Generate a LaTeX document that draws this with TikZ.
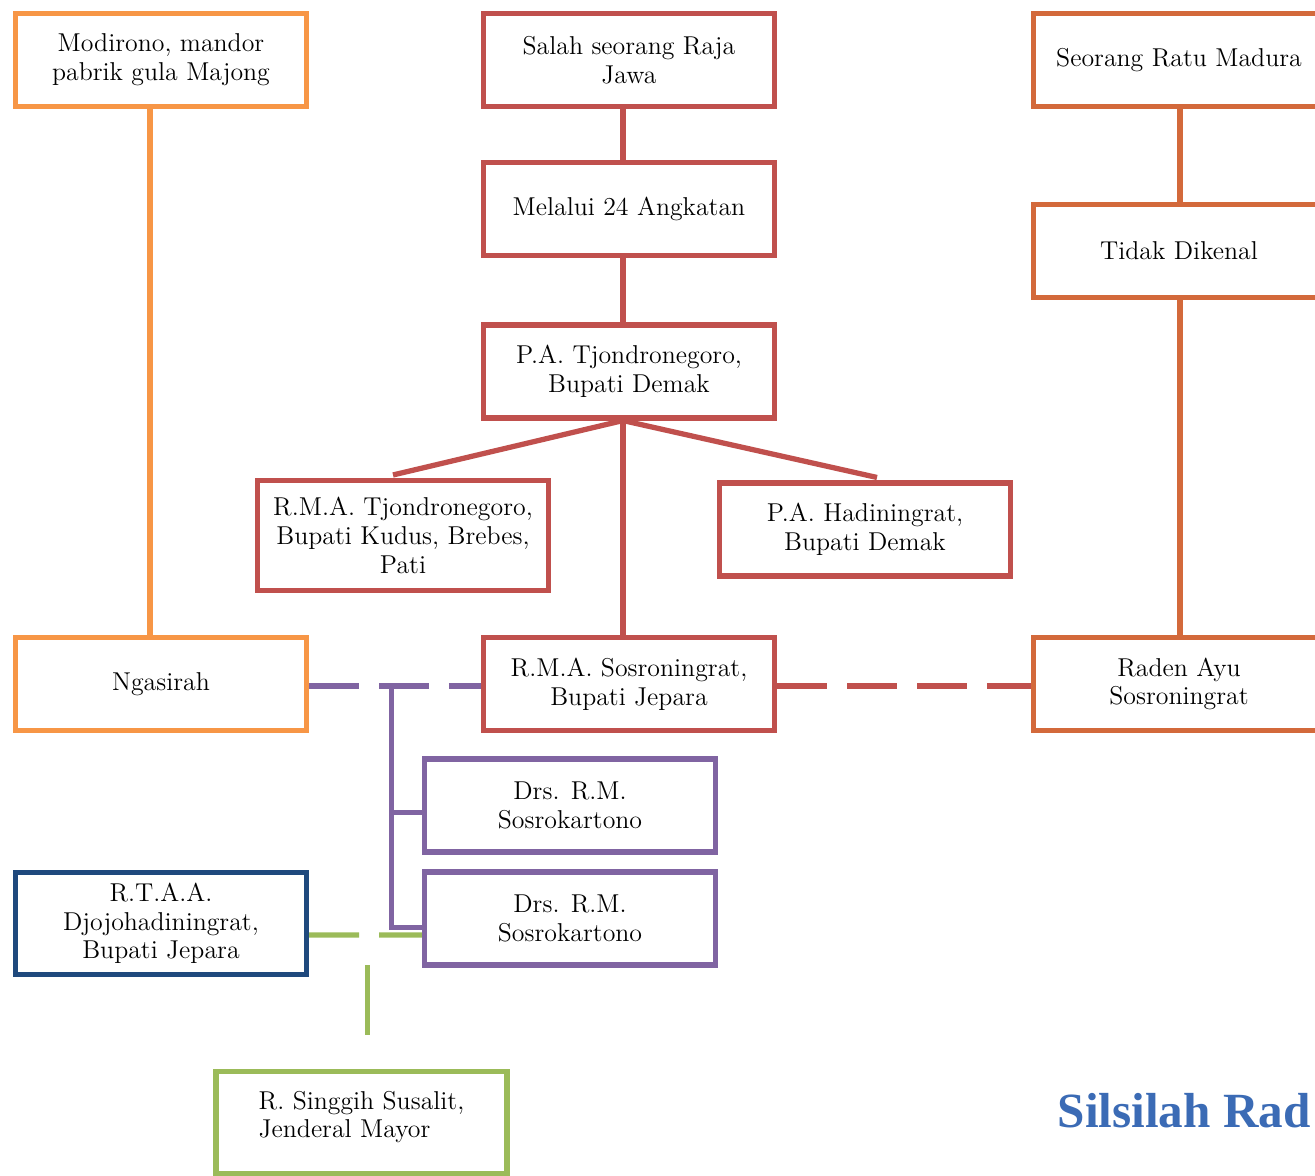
\documentclass[tikz,border=0pt]{standalone}
\usepackage{fontspec}
\newfontfamily\titlefont{Liberation Serif}
\usetikzlibrary{calc}
\definecolor{oranye}{HTML}{F79646}
\definecolor{merah}{HTML}{C0504D}
\definecolor{bata}{HTML}{D3693B}
\definecolor{ungu}{HTML}{8064A2}
\definecolor{biru}{HTML}{1F497D}
\definecolor{hijau}{HTML}{9BBB59}
\definecolor{judul}{HTML}{3B6BB5}
\begin{document}
\begin{tikzpicture}[x=0.02cm, y=-0.02cm, line width=3pt,
  main node/.style={rectangle,draw,line width=2.9pt,minimum width=5.82cm,minimum height=1.86cm,inner sep=2pt,align=center,fill=white},
  wed line/.style={dash pattern=on 1cm off 0.4cm}]
\useasboundingbox (0,0) rectangle (1315,1176);
\begin{scope}[every node/.style={font=\fontsize{14.7}{16.3}\selectfont}]
\node[main node,draw=oranye] (modirono) at (161,60) {Modirono, mandor\\pabrik gula Majong};
\node[main node,draw=merah] (raja) at (629,60) {Salah seorang Raja\\Jawa};
\node[main node,draw=bata] (ratu) at (1179,60) {Seorang Ratu Madura};
\node[main node,draw=merah] (angkatan) at (629,209) {Melalui 24 Angkatan};
\node[main node,draw=bata] (tidak) at (1179,251) {Tidak Dikenal};
\node[main node,draw=merah] (patjondro) at (629,371.5) {P.A. Tjondronegoro,\\Bupati Demak};
\node[main node,draw=merah,minimum height=2.2cm] (kudus) at (403,535.5) {R.M.A. Tjondronegoro,\\Bupati Kudus, Brebes,\\Pati};
\node[main node,draw=merah] (hadiningrat) at (865,529.5) {P.A. Hadiningrat,\\Bupati Demak};
\node[main node,draw=oranye] (ngasirah) at (161,684) {Ngasirah};
\node[main node,draw=merah] (sosroningrat) at (629,684) {R.M.A. Sosroningrat,\\Bupati Jepara};
\node[main node,draw=bata] (radenayu) at (1179,684) {Raden Ayu\\Sosroningrat};
\node[main node,draw=ungu] (kartono1) at (570,805.5) {Drs. R.M.\\Sosrokartono};
\node[main node,draw=ungu] (kartono2) at (570,918.5) {Drs. R.M.\\Sosrokartono};
\node[main node,draw=biru,minimum height=2.04cm] (djojo) at (161,923.5) {R.T.A.A.\\Djojohadiningrat,\\Bupati Jepara};
\node[main node,draw=hijau,minimum height=2.04cm,align=left] (singgih) at (361.5,1122.5) {R. Singgih Susalit,\\Jenderal Mayor\\[-7pt]};
\end{scope}
\node[anchor=base west,inner sep=0pt,text=judul,font=\titlefont\bfseries\fontsize{28}{30}\selectfont] (judul) at (1055,1127) {Silsilah Rad};
\begin{scope}
\draw[oranye] ([xshift=-0.22cm]modirono.south) -- ([xshift=-0.22cm]ngasirah.north);
\draw[merah] ([xshift=-0.12cm]raja.south) -- ([xshift=-0.12cm]angkatan.north);
\draw[merah] ([xshift=-0.12cm]angkatan.south) -- ([xshift=-0.12cm]patjondro.north);
\draw[merah] ([xshift=-0.12cm]patjondro.south) -- ([xshift=-0.2cm,yshift=0.06cm]kudus.north);
\draw[merah] ([xshift=-0.12cm]patjondro.south) -- ([xshift=0.24cm,yshift=0.06cm]hadiningrat.north);
\draw[merah] ([xshift=-0.12cm]patjondro.south) -- ([xshift=-0.12cm]sosroningrat.north);
\draw[bata] ([xshift=0.02cm]ratu.south) -- ([xshift=0.02cm]tidak.north);
\draw[bata] ([xshift=0.02cm]tidak.south) -- ([xshift=0.02cm]radenayu.north);
\draw[merah,wed line] ([yshift=-0.04cm]sosroningrat.east) -- ([yshift=-0.04cm]radenayu.west);
\draw[ungu,wed line] ([yshift=-0.04cm]ngasirah.east) -- ([yshift=-0.04cm]sosroningrat.west);
\coordinate (anak) at ($([yshift=-0.04cm]ngasirah.east)!0.48!([yshift=-0.04cm]sosroningrat.west)$);
\draw[ungu] (anak) |- ([yshift=-0.14cm]kartono1.west);
\draw[ungu] (anak) |- ([yshift=-0.18cm]kartono2.west);
\draw[hijau,wed line] ([yshift=-0.23cm]djojo.east) -- ([yshift=-0.33cm]kartono2.west);
\coordinate (nikah) at ($([yshift=-0.23cm]djojo.east)!0.52!([yshift=-0.33cm]kartono2.west)$);
\draw[hijau,dash pattern=on 0pt off 0.6cm on 1.4cm off 1cm] (nikah) -- (nikah |- singgih.north);
\end{scope}
\end{tikzpicture}
\end{document}
